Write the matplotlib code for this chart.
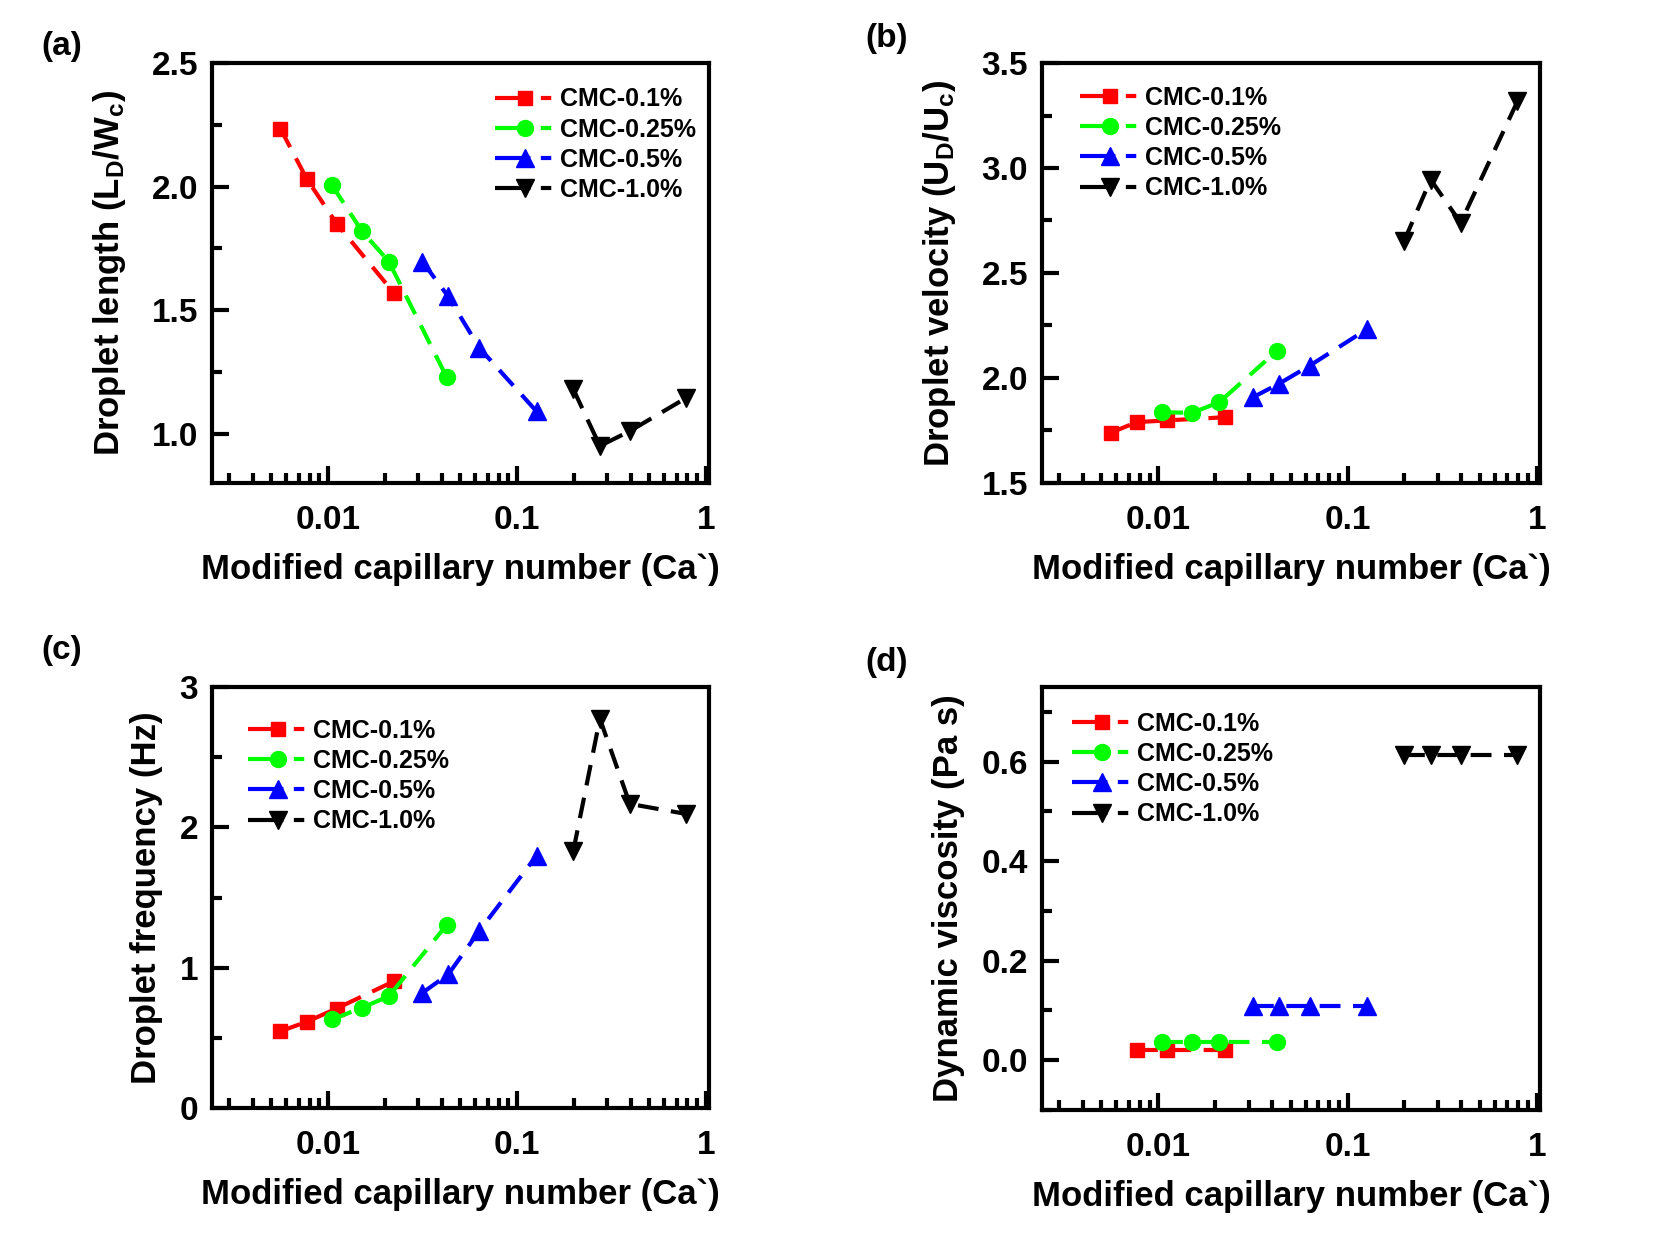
import numpy as np
import matplotlib
matplotlib.use("Agg")
import matplotlib.pyplot as plt
from matplotlib.lines import Line2D
from matplotlib.ticker import (MultipleLocator, FixedLocator, LogLocator,
                               NullFormatter, FormatStrFormatter)

plt.rcParams['font.family'] = ['Liberation Sans', 'DejaVu Sans']
plt.rcParams['font.weight'] = 'bold'
plt.rcParams['mathtext.fontset'] = 'custom'
plt.rcParams['mathtext.rm'] = 'Liberation Sans:bold'
plt.rcParams['mathtext.bf'] = 'Liberation Sans:bold'
plt.rcParams['mathtext.it'] = 'Liberation Sans:bold'

# ---- data ----
labels = ['CMC-0.1%', 'CMC-0.25%', 'CMC-0.5%', 'CMC-1.0%']
x_01 = [0.0056, 0.0077, 0.0111, 0.0224]
x_025 = [0.0105, 0.0151, 0.0210, 0.0425]
x_05 = [0.0316, 0.0433, 0.0632, 0.127]
x_10 = [0.199, 0.275, 0.396, 0.79]

length_01 = [2.234, 2.032, 1.85, 1.568]
length_025 = [2.005, 1.82, 1.696, 1.228]
length_05 = [1.696, 1.555, 1.347, 1.09]
length_10 = [1.179, 0.95, 1.01, 1.145]

velocity_01 = [1.739, 1.79, 1.798, 1.813]
velocity_025 = [1.837, 1.834, 1.885, 2.13]
velocity_05 = [1.908, 1.972, 2.059, 2.233]
velocity_10 = [2.652, 2.945, 2.739, 3.317]

freq_01 = [0.547, 0.614, 0.709, 0.904]
freq_025 = [0.631, 0.714, 0.797, 1.305]
freq_05 = [0.821, 0.952, 1.262, 1.797]
freq_10 = [1.833, 2.774, 2.167, 2.095]

visc_01 = [np.nan, 0.02, 0.02, 0.02]
visc_025 = [0.037, 0.037, 0.037, 0.037]
visc_05 = [0.109, 0.109, 0.109, 0.109]
visc_10 = [0.613, 0.613, 0.613, 0.613]

xs = [x_01, x_025, x_05, x_10]
colors = ['#FF0000', '#00FF00', '#0000FF', '#000000']
markers = ['s', 'o', '^', 'v']
msizes = [10.5, 11.5, 12.5, 12.5]

W, H = 1661, 1246
fig = plt.figure(figsize=(W / 100, H / 100), dpi=100)


def make_ax(l, r, t, b):
    return fig.add_axes([l / W, 1 - b / H, (r - l) / W, (b - t) / H])


panels = [
    dict(box=(212, 709, 63, 483), ys=[length_01, length_025, length_05, length_10],
         ylim=(0.8, 2.5), major=0.5, minor=0.25, fmt='%.1f',
         ylabel=r'Droplet length (L$_{\mathrm{D}}$/W$_{\mathrm{c}}$)', lpad=17,
         leg=(0.569, 0.942), tag='(a)', tagpos=(62, 46)),
    dict(box=(1042, 1540, 63, 483), ys=[velocity_01, velocity_025, velocity_05, velocity_10],
         ylim=(1.5, 3.5), major=0.5, minor=0.25, fmt='%.1f',
         ylabel=r'Droplet velocity (U$_{\mathrm{D}}$/U$_{\mathrm{c}}$)', lpad=17,
         leg=(0.076, 0.946), tag='(b)', tagpos=(887, 39)),
    dict(box=(212, 709, 687, 1108), ys=[freq_01, freq_025, freq_05, freq_10],
         ylim=(0, 3), major=1, minor=0.5, fmt='%d',
         ylabel='Droplet frequency (Hz)', lpad=12,
         leg=(0.072, 0.925), tag='(c)', tagpos=(62, 650)),
    dict(box=(1042, 1540, 687, 1110), ys=[visc_01, visc_025, visc_05, visc_10],
         ylim=(-0.1, 0.75), major=0.2, minor=0.1, fmt='%.1f',
         ylabel='Dynamic viscosity (Pa s)', lpad=12,
         leg=(0.06, 0.942), tag='(d)', tagpos=(887, 662)),
]

for p in panels:
    ax = make_ax(*p['box'])
    for x, y, c, m, ms, lab in zip(xs, p['ys'], colors, markers, msizes, labels):
        ax.plot(x, y, color=c, marker=m, markersize=ms, linewidth=3,
                linestyle=(0, (5, 3)), label=lab)
    handles = [Line2D([], [], color=c, marker=m, markersize=ms, linewidth=3,
                      linestyle=(0, (8.5, 2.5, 2.5, 10)))
               for c, m, ms in zip(colors, markers, msizes)]
    ax.set_xscale('log')
    ax.set_xlim(0.00243, 1.04)
    ax.set_ylim(*p['ylim'])
    ax.xaxis.set_major_locator(FixedLocator([0.01, 0.1, 1]))
    ax.set_xticklabels(['0.01', '0.1', '1'])
    ax.xaxis.set_minor_locator(LogLocator(base=10, subs=np.arange(2, 10), numticks=20))
    ax.xaxis.set_minor_formatter(NullFormatter())
    ax.yaxis.set_major_locator(MultipleLocator(p['major']))
    ax.yaxis.set_minor_locator(MultipleLocator(p['minor']))
    ax.yaxis.set_major_formatter(FormatStrFormatter(p['fmt']))
    for s in ax.spines.values():
        s.set_linewidth(3)
    ax.tick_params(which='both', direction='in', top=False, right=False, width=3)
    ax.tick_params(which='major', length=12, labelsize=24)
    ax.tick_params(which='minor', length=7)
    ax.tick_params(axis='x', which='major', pad=16)
    ax.tick_params(axis='y', which='major', pad=10)
    ax.set_xlabel('Modified capillary number (Ca`)', fontsize=25, fontweight='bold', labelpad=12)
    ax.set_ylabel(p['ylabel'], fontsize=25, fontweight='bold', labelpad=p['lpad'])
    ax.legend(handles, labels, loc='upper left', bbox_to_anchor=p['leg'], frameon=False,
              prop={'size': 18, 'weight': 'bold'}, handlelength=2.4,
              handletextpad=0.2, labelspacing=0.25, borderpad=0, borderaxespad=0)
    fig.text(p['tagpos'][0] / W, 1 - p['tagpos'][1] / H, p['tag'], fontsize=24,
             fontweight='bold', ha='center', va='center')

fig.savefig('out.png', dpi=100)
